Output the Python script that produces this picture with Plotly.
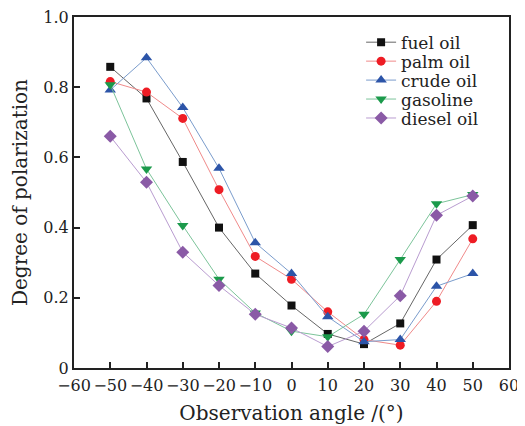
import plotly.graph_objects as go

angles = [-50, -40, -30, -20, -10, 0, 10, 20, 30, 40, 50]
fuel_oil = [0.858, 0.768, 0.587, 0.40, 0.269, 0.178, 0.097, 0.068, 0.127, 0.309, 0.407]
palm_oil = [0.816, 0.786, 0.711, 0.508, 0.318, 0.253, 0.16, 0.081, 0.065, 0.19, 0.368]
crude_oil = [0.792, 0.884, 0.742, 0.569, 0.357, 0.269, 0.146, 0.075, 0.081, 0.233, 0.269]
gasoline = [0.807, 0.567, 0.406, 0.253, 0.157, 0.105, 0.089, 0.153, 0.309, 0.468, 0.494]
diesel_oil = [0.66, 0.529, 0.33, 0.235, 0.153, 0.114, 0.061, 0.105, 0.206, 0.435, 0.49]

x_ticks = [-60, -50, -40, -30, -20, -10, 0, 10, 20, 30, 40, 50, 60]
x_tick_text = ["\u221260", "\u221250", "\u221240", "\u221230", "\u221220", "\u221210", "0", "10", "20", "30", "40", "50", "60"]
y_ticks = [0, 0.2, 0.4, 0.6, 0.8, 1.0]
y_tick_text = ["0", "0.2", "0.4", "0.6", "0.8", "1.0"]

series = [
    ("fuel oil", fuel_oil, "#111111", "#666666", "square", 8),
    ("palm oil", palm_oil, "#ee1c24", "#f08a8a", "circle", 9),
    ("crude oil", crude_oil, "#2c54a8", "#7a9ccc", "triangle-up", 10),
    ("gasoline", gasoline, "#1b9a4b", "#7cc49a", "triangle-down", 10),
    ("diesel oil", diesel_oil, "#8a5aa6", "#b99cd0", "diamond", 10),
]
legend_ids = ["legend", "legend2", "legend3", "legend4", "legend5"]
legend_rows = [0.927, 0.873, 0.819, 0.765, 0.711]

fig = go.Figure()
for (name, vals, mc, lc, sym, sz), lid in zip(series, legend_ids):
    fig.add_trace(go.Scatter(
        x=angles, y=vals, name=name, mode="lines+markers",
        line=dict(color=lc, width=1),
        marker=dict(symbol=sym, size=sz, color=mc, line=dict(width=0)),
        legend=lid,
    ))

font_family = "DejaVu Serif, Liberation Serif, serif"
legend_style = dict(x=0.66, xanchor="left", yanchor="middle",
                    bgcolor="rgba(0,0,0,0)", font=dict(size=17))
legends = {lid: dict(y=ly, **legend_style) for lid, ly in zip(legend_ids, legend_rows)}

fig.update_layout(
    width=525, height=426,
    margin=dict(l=66, r=24, t=9, b=66),
    paper_bgcolor="white", plot_bgcolor="white",
    font=dict(family=font_family, size=17, color="#222222"),
    showlegend=True,
    xaxis=dict(range=[-60, 60], tickvals=x_ticks, ticktext=x_tick_text,
               tickangle=0, tickfont=dict(size=16), ticklabelstandoff=2,
               ticklabeloverflow="allow",
               ticks="inside", ticklen=6, tickwidth=1.5, tickcolor="#222222",
               showline=True, linecolor="#222222", linewidth=2, mirror=True,
               showgrid=False, zeroline=False, automargin=False,
               title=dict(text="Observation angle /(\u00b0)", standoff=12)),
    yaxis=dict(range=[0, 1.0], tickvals=y_ticks, ticktext=y_tick_text,
               tickfont=dict(size=16), ticklabeloverflow="allow",
               ticks="inside", ticklen=6, tickwidth=1.5, tickcolor="#222222",
               showline=True, linecolor="#222222", linewidth=2, mirror=True,
               showgrid=False, zeroline=False, automargin=False,
               title=dict(text="Degree of polarization", standoff=10)),
    **legends,
)
fig.write_html("out.html")
